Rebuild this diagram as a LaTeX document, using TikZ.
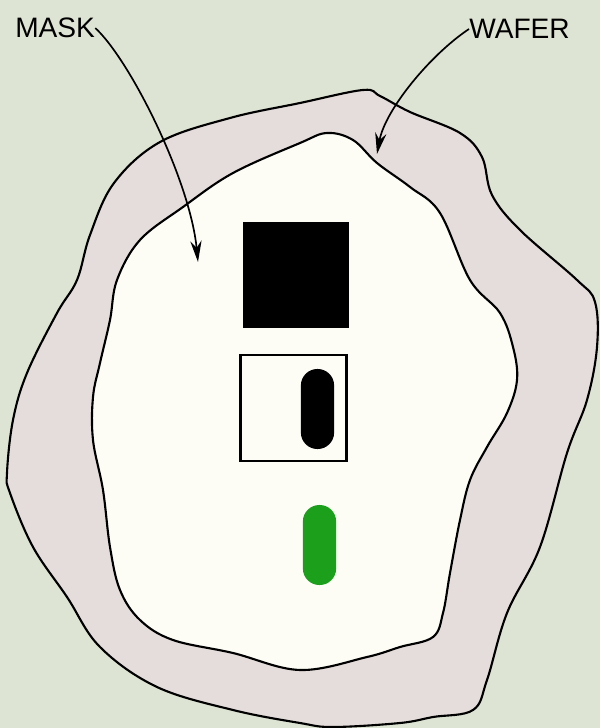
\documentclass[tikz,border=0pt]{standalone}
\usepackage{fontspec}
\setmainfont{Liberation Sans}
\usetikzlibrary{arrows.meta}
\definecolor{paper}{RGB}{222,228,211}
\definecolor{waferfill}{RGB}{229,221,219}
\definecolor{maskfill}{RGB}{253,253,246}
\definecolor{resist}{RGB}{28,160,28}
\begin{document}
\begin{tikzpicture}[
        x=0.025cm, y=-0.025cm,
        >={Stealth[length=15pt,width=8pt]},
        outline/.style={draw=black, line width=1.5pt},
        label/.style={font=\fontsize{20}{22}\selectfont, inner sep=0pt},
        pad/.style={minimum width=2.65cm, minimum height=2.65cm, inner sep=0pt},
        slot/.style={minimum width=0.83cm, minimum height=2.0cm, rounded corners=0.41cm, inner sep=0pt},
        pointer/.style={->, line width=1.2pt}
    ]
        \fill[paper] (0,0) rectangle (600,728);
        \useasboundingbox (0,0) rectangle (600,728);

        \draw[outline, fill=waferfill] plot[smooth cycle, tension=0.6] coordinates {
            (77,280) (90,235) (114,183) (160,142) (230,118) (300,103) (363,90) (380,96)
            (410,112) (460,133) (482,157) (492,195) (520,230) (577,280) (595,302)
            (597,347) (587,400) (567,453) (540,547) (507,613) (487,680) (473,710)
            (433,717) (400,723) (333,727) (300,723) (233,710) (157,687) (100,647)
            (67,597) (33,547) (10,493) (7,473) (13,420) (27,373) (57,313)};

        \draw[outline, fill=maskfill] plot[smooth cycle, tension=0.6] coordinates {
            (117,280) (140,240) (183,207) (233,173) (300,143) (327,133) (353,140)
            (377,163) (410,187) (440,213) (470,280) (500,313) (513,347) (517,380)
            (507,413) (487,447) (470,480) (460,520) (450,573) (443,613) (433,637)
            (400,647) (367,657) (300,670) (233,653) (173,640) (140,620) (120,590)
            (110,547) (103,490) (93,440) (93,397) (100,363) (110,320)};

        \node[pad, fill=black] (contact) at (296,275) {};
        \node[pad, draw=black, line width=1.6pt, fill=maskfill] (window) at (293.5,408) {};
        \node[slot, fill=black] (hole) at (317.5,409) {};
        \node[slot, fill=resist] (line) at (319.5,545) {};

        \node[label, anchor=west] (mask) at (15,28) {MASK};
        \node[label, anchor=west] (wafer) at (469,29) {WAFER};
        \coordinate (masktip) at (198,262);
        \coordinate (wafertip) at (377,154);

        \draw[pointer] (mask.east) .. controls (130,60) and (190,180) .. (masktip);
        \draw[pointer] (wafer.west) .. controls (430,55) and (385,110) .. (wafertip);
    \end{tikzpicture}
\end{document}
